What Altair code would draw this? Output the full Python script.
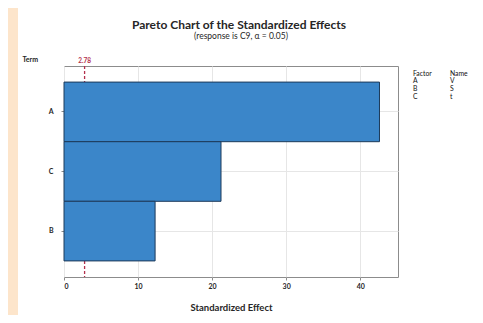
import altair as alt
import pandas as pd

# ---- data ----
terms = ["A", "C", "B"]
effects = [42.6, 21.2, 12.3]
ref_value = 2.78
factor_codes = ["A", "B", "C"]
factor_names = ["V", "S", "t"]
x_ticks = [0, 10, 20, 30, 40]
title_text = "Pareto Chart of the Standardized Effects"
subtitle_text = "(response is C9, α = 0.05)"

FONT = "Lato"
TEXT = "#262626"
RED = "#b3304c"
PEACH = "#fde5cb"

bars_df = pd.DataFrame({"term": terms, "effect": effects})
ref_df = pd.DataFrame({"value": [ref_value], "label": [f"{ref_value:.2f}"]})
legend_df = pd.DataFrame({
    "row": list(range(len(factor_codes) + 1)),
    "factor": ["Factor"] + factor_codes,
    "name": ["Name"] + factor_names,
})
strip_df = pd.DataFrame({"k": [0]})
title_df = pd.DataFrame({"t": [title_text]})
subtitle_df = pd.DataFrame({"t": [subtitle_text]})

x_scale = alt.Scale(domain=[0, 45.1], nice=False, zero=True)
y_scale = alt.Scale(domain=terms, paddingInner=0, paddingOuter=0.27)

x_axis = alt.Axis(
    values=x_ticks, title="Standardized Effect", domain=False,
    tickSize=3, tickColor="#8c8c8c", labelPadding=2,
    labelFont=FONT, labelFontSize=7, labelFontWeight="bold", labelColor=TEXT,
    titleFont=FONT, titleFontSize=9.5, titleFontWeight="bold", titleColor=TEXT,
    titleY=33, titleBaseline="alphabetic",
    grid=True, gridColor="#e6e6e6",
)
y_axis = alt.Axis(
    title="Term", titleAngle=0, titleAlign="left", titleX=-42, titleY=-4.5,
    titleBaseline="alphabetic", titleFont=FONT, titleFontSize=7,
    titleFontWeight="bold", titleColor=TEXT,
    domain=False, tickSize=3, tickColor="#8c8c8c", labelPadding=8,
    labelFont=FONT, labelFontSize=7, labelFontWeight="bold", labelColor=TEXT,
    grid=True, gridColor="#e6e6e6", bandPosition=0.5,
)

strip = alt.Chart(strip_df).mark_rect(color=PEACH).encode(
    x=alt.value(-56), x2=alt.value(-46), y=alt.value(-58), y2=alt.value(249)
)

title_mark = alt.Chart(title_df).mark_text(
    font=FONT, fontSize=12, fontWeight="bold", color=TEXT, align="center", baseline="alphabetic"
).encode(x=alt.value(175), y=alt.value(-37), text="t:N")
subtitle_mark = alt.Chart(subtitle_df).mark_text(
    font=FONT, fontSize=8.5, color=TEXT, align="center", baseline="alphabetic"
).encode(x=alt.value(177), y=alt.value(-27.5), text="t:N")

rule = alt.Chart(ref_df).mark_rule(color=RED, strokeDash=[3, 2], strokeWidth=1.3).encode(
    x=alt.X("value:Q", scale=x_scale, axis=x_axis)
)

bars = alt.Chart(bars_df).mark_bar(color="#3b86c9", stroke="#1d3a5a", strokeWidth=1).encode(
    x=alt.X("effect:Q", scale=x_scale, axis=x_axis),
    y=alt.Y("term:N", scale=y_scale, sort=terms, axis=y_axis),
)

ref_label = alt.Chart(ref_df).mark_text(
    color=RED, font=FONT, fontSize=6.5, fontWeight="bold", align="center", baseline="alphabetic"
).encode(
    x=alt.X("value:Q", scale=x_scale, axis=x_axis),
    y=alt.value(-3.5),
    text="label:N",
)

leg_y = alt.Y("row:Q", scale=alt.Scale(domain=[0, 3], range=[7.5, 31]), axis=None)
legend_factor = alt.Chart(legend_df).mark_text(
    font=FONT, fontSize=6.8, fontWeight="normal", color="#111111", align="left", baseline="middle"
).encode(x=alt.value(349), y=leg_y, text="factor:N")
legend_name = alt.Chart(legend_df).mark_text(
    font=FONT, fontSize=6.8, fontWeight="normal", color="#111111", align="left", baseline="middle"
).encode(x=alt.value(386), y=leg_y, text="name:N")

chart = alt.layer(
    strip, title_mark, subtitle_mark, rule, bars, ref_label, legend_factor, legend_name
).resolve_scale(
    y="independent"
).properties(
    width=334, height=211,
    padding={"left": 56, "top": 58, "right": 77, "bottom": 38},
    autosize=alt.AutoSizeParams(type="none"),
    background="white",
).configure_view(stroke="#8c8c8c", strokeWidth=1)

chart.save("out.html", embed_options={"renderer": "svg", "actions": False})
